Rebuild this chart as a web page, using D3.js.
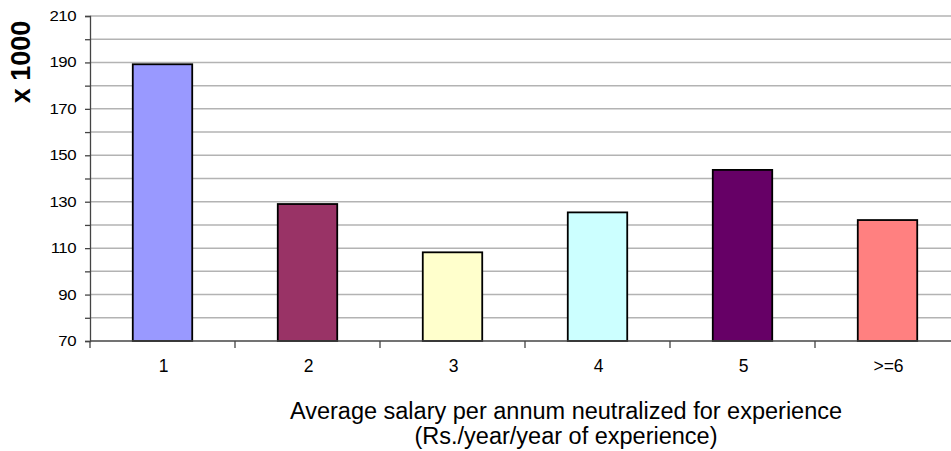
<!DOCTYPE html>
<html><head><meta charset="utf-8">
<script src="https://cdn.jsdelivr.net/npm/d3@7"></script>
<style>body{margin:0;background:#fff}svg{display:block}text{font-family:Arial,"Liberation Sans",sans-serif}</style>
</head><body><svg id="c" width="951" height="451"></svg>
<script>
const categories = ["1","2","3","4","5",">=6"];
const values = [189.2, 129, 108.2, 125.4, 143.7, 122.1];
const colors = ["#9999FF","#993366","#FFFFCC","#CCFFFF","#660066","#FF8080"];
const yTicks = [70,90,110,130,150,170,190,210];
const yGrid = [80,90,100,110,120,130,140,150,160,170,180,190,200,210];

const svg = d3.select("#c");
const x = d3.scaleBand().domain(categories).range([90,960]).paddingInner(0.59).paddingOuter(0.295);
const y = d3.scaleLinear().domain([70,210]).range([341,16]);

// gridlines
svg.append("g").selectAll("line").data(yGrid).join("line")
  .attr("x1",90).attr("x2",951).attr("y1",d=>y(d)).attr("y2",d=>y(d))
  .attr("stroke","#b3b3b3").attr("stroke-width",1.5);

// bars
svg.append("g").selectAll("rect").data(values).join("rect")
  .attr("x",(d,i)=>x(categories[i])).attr("width",x.bandwidth())
  .attr("y",d=>y(d)).attr("height",d=>y(70)-y(d))
  .attr("fill",(d,i)=>colors[i]).attr("stroke","#000").attr("stroke-width",1.8);

// y axis
const ya = svg.append("g").attr("transform","translate(90,0)")
  .call(d3.axisLeft(y).tickValues(d3.range(70,211,10)).tickSize(5).tickFormat(d=>yTicks.includes(d)?d:""));
ya.select(".domain").attr("stroke","#444").attr("stroke-width",1.3);
ya.selectAll(".tick line").attr("stroke","#444").attr("stroke-width",1.3);
ya.selectAll(".tick text").attr("font-size",14).attr("letter-spacing","-0.4").attr("fill","#000")
  .attr("x",0).attr("transform","translate(-14,0) scale(1.2,1)")
  .style("font-family","Arial, 'Liberation Sans', sans-serif");

// x axis
const xa = svg.append("g").attr("transform","translate(0,341)");
xa.append("line").attr("x1",90).attr("x2",951).attr("stroke","#444").attr("stroke-width",1.5);
const tickXs = categories.map((c,i)=>90+i*x.step());
xa.selectAll("line.t").data(tickXs).join("line").attr("class","t")
  .attr("x1",d=>d).attr("x2",d=>d).attr("y1",0).attr("y2",7).attr("stroke","#444").attr("stroke-width",1.3);
xa.selectAll("text").data(categories).join("text")
  .attr("x",d=>x(d)+x.bandwidth()/2+1).attr("y",31).attr("text-anchor","middle")
  .attr("font-size",17.5).text(d=>d);

// titles
svg.append("text").attr("transform","translate(30,62) rotate(-90)").attr("text-anchor","middle")
  .attr("font-size",27).attr("font-weight","bold").text("x 1000");
svg.append("text").attr("x",566).attr("y",419).attr("text-anchor","middle").attr("font-size",23.5).text("Average salary per annum neutralized for experience");
svg.append("text").attr("x",566).attr("y",444).attr("text-anchor","middle").attr("font-size",23.5).text("(Rs./year/year of experience)");
</script></body></html>
